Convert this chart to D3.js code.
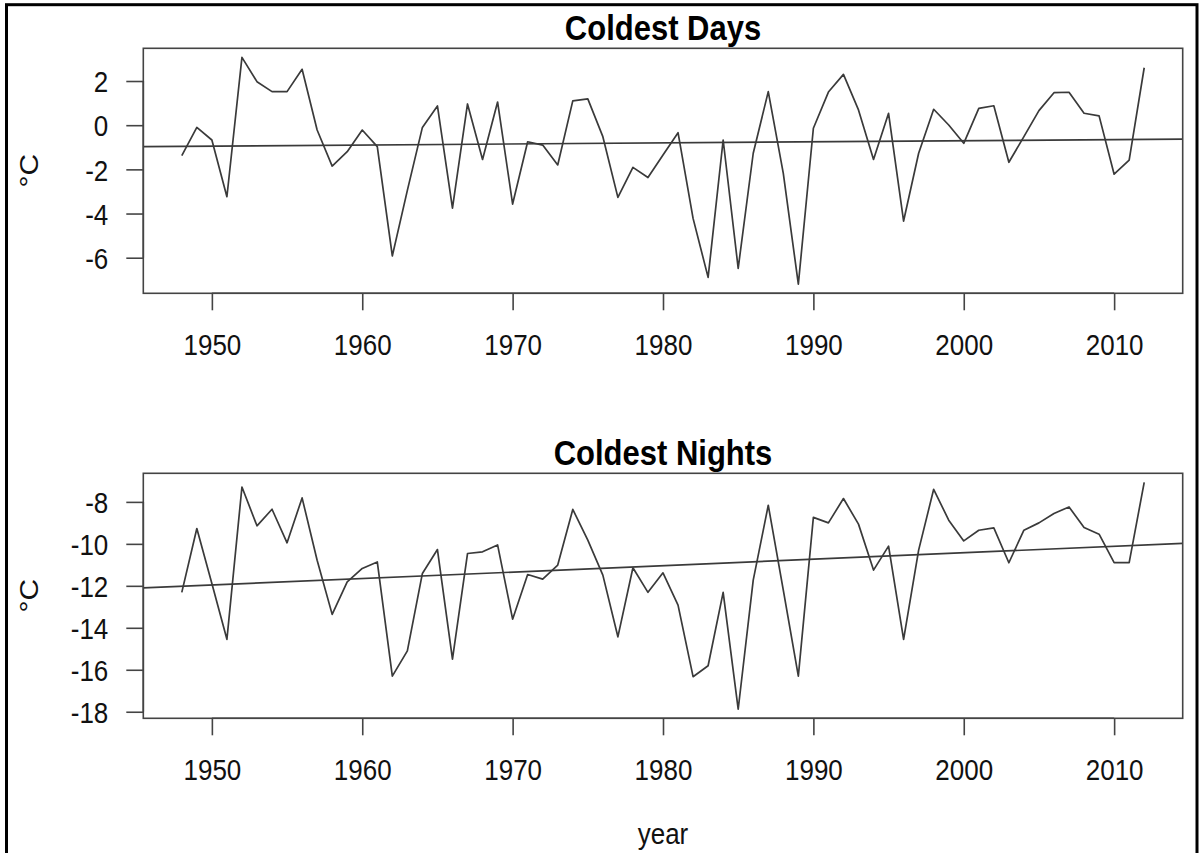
<!DOCTYPE html>
<html>
<head>
<meta charset="utf-8">
<script src="https://cdn.jsdelivr.net/npm/d3@7"></script>
<style>
  html, body { margin: 0; padding: 0; background: #fff; }
  svg { display: block; font-family: "Liberation Sans", Arial, Helvetica, sans-serif; }
</style>
</head>
<body>
<svg id="chart" width="1203" height="853"></svg>
<script>
// Annual extremes, 1948–2012
const years = d3.range(1948, 2013);

const coldestDays = [
  -1.38, -0.10, -0.67, -3.24, 3.07, 1.97, 1.52, 1.52, 2.53, -0.22,
  -1.85, -1.20, -0.22, -0.97, -5.92, -2.95, -0.10, 0.87, -3.76, 0.96,
  -1.55, 1.05, -3.57, -0.75, -0.90, -1.80, 1.10, 1.19, -0.52, -3.27,
  -1.91, -2.37, -1.35, -0.34, -4.22, -6.89, -0.67, -6.48, -1.27, 1.52,
  -2.18, -7.20, -0.14, 1.50, 2.30, 0.69, -1.55, 0.54, -4.34, -1.27,
  0.72, 0.01, -0.82, 0.76, 0.88, -1.68, -0.52, 0.66, 1.47, 1.49,
  0.54, 0.42, -2.22, -1.58, 2.60
];

const coldestNights = [
  -12.31, -9.27, -11.89, -14.55, -7.29, -9.14, -8.35, -9.95, -7.81, -10.78,
  -13.36, -11.81, -11.17, -10.86, -16.30, -15.10, -11.41, -10.27, -15.49, -10.46,
  -10.38, -10.05, -13.59, -11.46, -11.68, -11.01, -8.36, -9.82, -11.49, -14.43,
  -11.14, -12.31, -11.38, -12.92, -16.33, -15.81, -12.31, -17.88, -11.73, -8.16,
  -12.20, -16.30, -8.74, -9.00, -7.84, -9.06, -11.25, -10.11, -14.55, -10.30,
  -7.40, -8.87, -9.86, -9.35, -9.24, -10.90, -9.35, -9.00, -8.55, -8.24,
  -9.22, -9.54, -10.89, -10.89, -7.07
];

const xTicks = [1950, 1960, 1970, 1980, 1990, 2000, 2010];
const daysTicks = [2, 0, -2, -4, -6];
const nightsTicks = [-8, -10, -12, -14, -16, -18];

const panels = [
  { title: "Coldest Days", values: coldestDays, ticks: daysTicks, top: 48.3 },
  { title: "Coldest Nights", values: coldestNights, ticks: nightsTicks, top: 473.3 }
];

const svg = d3.select("#chart");
const left = 143.3, right = 1182.7, plotH = 245;
const ink = "#3a3a3a";
const fontSize = 26;
const stretch = 1.15;

// Outer frame
svg.append("rect")
  .attr("x", 6.5).attr("y", 4.7)
  .attr("width", 1197 - 6.5).attr("height", 900)
  .attr("fill", "none").attr("stroke", "#000").attr("stroke-width", 3);

// Axis range with 4% padding on each side
function padded(ext) {
  const d = (ext[1] - ext[0]) * 0.04;
  return [ext[0] - d, ext[1] + d];
}

const x = d3.scaleLinear().domain(padded(d3.extent(years))).range([left, right]);

function linearFit(xs, ys) {
  const mx = d3.mean(xs), my = d3.mean(ys);
  let sxy = 0, sxx = 0;
  xs.forEach((v, i) => { sxy += (v - mx) * (ys[i] - my); sxx += (v - mx) * (v - mx); });
  const slope = sxy / sxx;
  return { slope, intercept: my - slope * mx };
}

function stretchedText(g, tx, ty, str, opts = {}) {
  return g.append("text")
    .attr("transform", `translate(${tx},${ty}) scale(1,${stretch})`)
    .attr("text-anchor", opts.anchor || "middle")
    .attr("font-size", opts.size || fontSize)
    .attr("font-weight", opts.weight || "normal")
    .attr("fill", opts.fill || "#111")
    .text(str);
}

panels.forEach(p => {
  const top = p.top, bottom = top + plotH;
  const y = d3.scaleLinear().domain(padded(d3.extent(p.values))).range([bottom, top]);
  const g = svg.append("g");

  const clipId = "clip-" + p.title.replace(/\s+/g, "");
  svg.append("clipPath").attr("id", clipId)
    .append("rect").attr("x", left).attr("y", top)
    .attr("width", right - left).attr("height", plotH);

  // Series line
  const line = d3.line().x((d, i) => x(years[i])).y(d => y(d));
  g.append("path")
    .datum(p.values)
    .attr("d", line)
    .attr("fill", "none")
    .attr("stroke", ink)
    .attr("stroke-width", 1.7)
    .attr("stroke-linejoin", "round");

  // Linear trend across the plot region
  const fit = linearFit(years, p.values);
  const xd = x.domain();
  g.append("line")
    .attr("clip-path", `url(#${clipId})`)
    .attr("x1", x(xd[0])).attr("y1", y(fit.intercept + fit.slope * xd[0]))
    .attr("x2", x(xd[1])).attr("y2", y(fit.intercept + fit.slope * xd[1]))
    .attr("stroke", ink).attr("stroke-width", 1.7);

  // Plot box
  g.append("rect")
    .attr("x", left).attr("y", top)
    .attr("width", right - left).attr("height", plotH)
    .attr("fill", "none").attr("stroke", "#444").attr("stroke-width", 1.6);

  // Bottom axis
  const xAxis = d3.axisBottom(x).tickValues(xTicks).tickSize(17).tickFormat(d3.format("d"));
  const gx = g.append("g").attr("transform", `translate(0,${bottom})`).call(xAxis);
  gx.select(".domain")
    .attr("d", `M${x(xTicks[0])},0H${x(xTicks[xTicks.length - 1])}`)
    .attr("stroke", "#444").attr("stroke-width", 1.6);
  gx.selectAll(".tick line").attr("stroke", "#444").attr("stroke-width", 1.6);
  gx.selectAll(".tick text").remove();
  gx.selectAll(".tick").each(function(d) {
    stretchedText(d3.select(this), 0, 61.7, String(d));
  });

  // Left axis
  const yAxis = d3.axisLeft(y).tickValues(p.ticks).tickSize(17).tickFormat(d => d3.format("d")(d).replace("−", "-"));
  const gy = g.append("g").attr("transform", `translate(${left},0)`).call(yAxis);
  gy.select(".domain")
    .attr("d", `M0,${y(d3.max(p.ticks))}V${y(d3.min(p.ticks))}`)
    .attr("stroke", "#444").attr("stroke-width", 1.6);
  gy.selectAll(".tick line").attr("stroke", "#444").attr("stroke-width", 1.6);
  gy.selectAll(".tick text").remove();
  gy.selectAll(".tick").each(function(d) {
    stretchedText(d3.select(this), -35, 10.7, String(d), { anchor: "end" });
  });

  // Title
  stretchedText(g, (left + right) / 2, top - 8.3, p.title, { weight: "bold", size: 31, fill: "#000" });

  // Unit label
  g.append("text")
    .attr("transform", `translate(38,${(top + bottom) / 2}) rotate(-90) scale(${stretch},1)`)
    .attr("text-anchor", "middle")
    .attr("font-size", fontSize)
    .attr("fill", "#111")
    .text("°C");
});

// Shared x label
stretchedText(svg, (left + right) / 2, 844, "year");
</script>
</body>
</html>
